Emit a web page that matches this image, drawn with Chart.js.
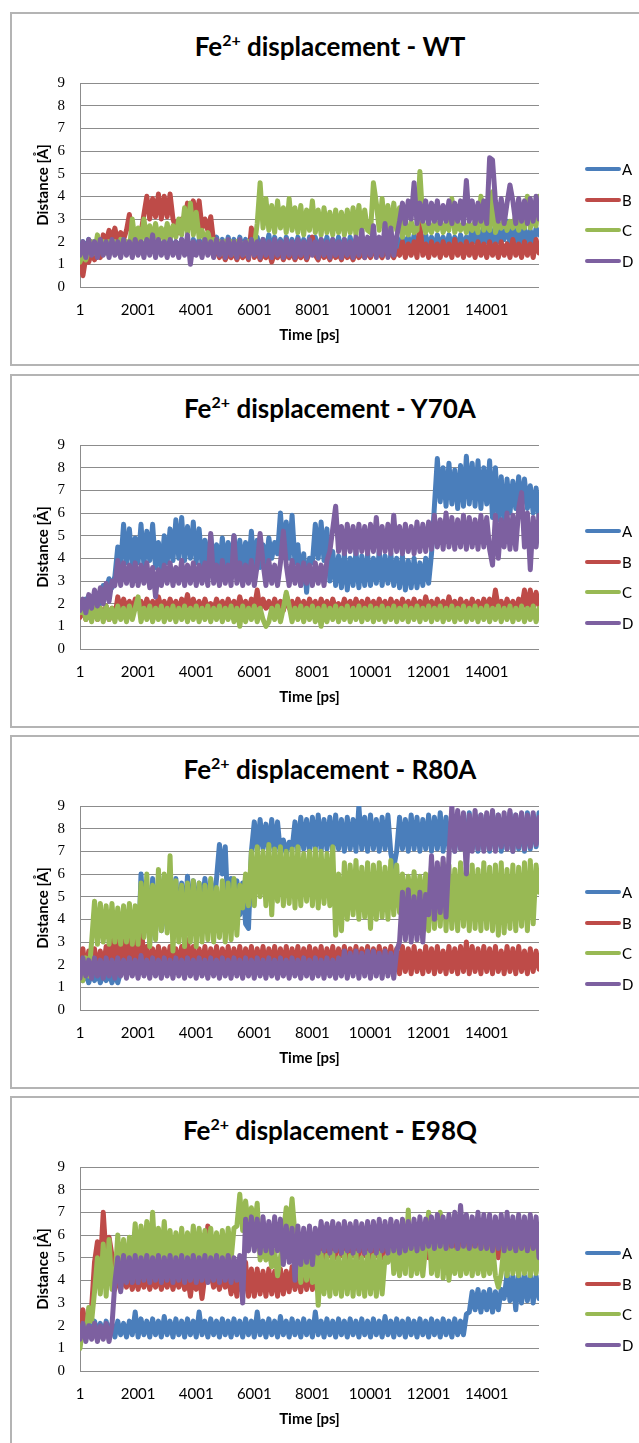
<!DOCTYPE html>
<html><head><meta charset="utf-8">
<script src="https://cdn.jsdelivr.net/npm/chart.js@4.4.1/dist/chart.umd.min.js"></script>
<style>
html,body{margin:0;padding:0;background:#fff}
body{width:639px;height:1443px;overflow:hidden;position:relative;font-family:Lato,"DejaVu Sans",sans-serif}
.panel{position:absolute;left:10px;width:680px;height:354px;border:2px solid #b4b4b4;box-sizing:border-box}
.title{position:absolute;left:0;width:660px;text-align:center;font-weight:bold;font-size:26px;line-height:30px;color:#000;white-space:nowrap}
.title .sup{font-size:16px;position:relative;top:-10px}
canvas{position:absolute;left:0}
.lgline{position:absolute;left:585px;width:36px;height:4px;border-radius:2px}
.lgtxt{position:absolute;left:622px;font-size:15px;line-height:16px;color:#000}
</style>
</head><body>
<script>
// ---- data ----
const TIMES = Array.from({length: 159}, (_, i) => 1 + 100 * i); // sample times [ps]
const X_TICKS = [1, 2001, 4001, 6001, 8001, 10001, 12001, 14001];
const SERIES_NAMES = ['A', 'B', 'C', 'D'];
const PANEL_NAMES = ['WT', 'Y70A', 'R80A', 'E98Q'];

const WT_A = [
1.5,2.0,1.6,2.1,1.5,2.0,1.6,2.1,1.5,1.9,1.6,2.1,1.5,2.0,1.6,2.1,1.5,2.0,1.6,2.1,
1.6,2.0,1.5,2.1,1.6,2.0,1.5,2.1,1.6,2.0,1.5,2.1,1.6,2.0,1.5,2.1,1.6,2.0,1.5,2.1,
1.6,2.1,1.5,2.2,1.6,2.1,1.5,2.2,1.6,2.1,1.5,2.2,1.6,2.1,1.5,2.2,1.6,2.1,1.5,2.3,
1.6,2.2,1.5,2.1,1.6,2.3,1.5,2.2,1.6,2.1,1.5,2.2,1.6,2.1,1.5,2.2,1.6,2.1,1.5,2.2,
1.6,2.2,1.5,2.1,1.6,2.2,1.5,2.1,1.6,2.2,1.5,2.1,1.6,2.2,1.5,2.1,1.6,2.2,1.5,2.1,
1.6,2.2,1.5,2.1,1.6,2.2,1.5,2.1,1.6,2.2,1.6,2.3,1.7,2.2,1.6,2.3,1.7,2.2,1.6,2.3,
1.7,2.2,1.6,2.3,1.7,2.2,1.6,2.3,1.7,2.2,1.6,2.3,1.7,2.2,1.9,2.6,2.0,2.5,1.9,2.7,
2.0,2.6,1.9,2.7,2.0,2.5,2.1,2.9,1.9,2.6,2.0,2.7,1.9,2.6,2.0,2.5,1.9,2.6,2.3];
const WT_B = [
1.2,0.5,1.3,1.1,1.5,1.2,1.6,1.3,2.3,2.0,2.5,2.1,2.6,2.0,2.4,2.1,2.5,3.2,2.2,2.4,
1.9,2.4,3.2,4.0,3.0,3.9,3.1,4.1,3.0,4.0,3.1,4.1,3.0,2.6,2.4,3.0,2.8,3.7,2.9,3.8,
3.0,3.8,2.6,3.0,2.5,3.1,2.0,1.6,1.3,1.6,1.2,1.5,1.3,1.6,1.2,1.5,1.3,1.6,1.2,2.6,
1.3,1.6,1.2,1.5,1.3,1.6,1.1,1.5,1.3,1.6,1.2,1.5,1.3,1.6,1.2,1.5,1.3,1.6,1.2,1.5,
2.2,1.4,1.2,1.6,1.3,1.5,1.2,1.6,1.3,1.5,1.2,1.6,1.3,1.5,1.2,1.6,1.3,1.5,1.3,1.6,
1.3,1.6,1.4,1.5,1.3,1.6,1.4,1.5,1.3,1.6,1.4,2.0,1.3,1.9,1.4,2.0,1.3,2.8,1.4,1.9,
1.3,2.0,1.4,1.9,1.3,2.0,1.4,1.9,1.3,2.1,1.4,1.9,1.3,2.0,1.4,1.9,1.3,2.0,1.4,1.9,
1.3,2.0,1.4,1.9,1.3,2.0,1.4,1.9,1.3,2.1,1.4,1.9,1.3,2.0,1.4,1.9,1.3,2.1,1.5];
const WT_C = [
1.1,1.4,1.2,1.6,2.0,1.5,2.3,1.6,2.0,1.5,2.0,1.6,2.0,1.5,2.1,1.6,2.0,1.6,3.0,2.0,
2.6,2.0,3.0,2.1,2.7,2.0,2.8,2.1,2.6,2.0,2.8,2.1,2.7,2.2,3.0,2.3,3.5,2.4,3.7,2.3,
3.3,2.2,2.5,2.0,2.4,1.9,2.1,1.6,2.0,1.5,2.0,1.6,2.0,1.5,2.0,1.6,1.9,1.5,2.0,1.6,
1.8,2.8,4.6,2.6,3.9,2.5,3.6,2.4,3.8,2.6,3.5,2.4,3.9,2.5,3.5,2.4,3.6,2.3,3.4,2.5,
3.8,2.4,3.4,2.3,3.5,2.4,3.3,2.3,3.4,2.4,3.3,2.3,3.4,2.4,3.5,2.3,3.6,2.4,3.4,2.5,
2.4,4.6,3.7,2.5,3.9,2.5,3.6,2.4,3.7,2.5,3.5,2.2,2.8,2.3,2.9,2.4,2.5,5.1,2.9,2.4,
2.8,2.4,2.9,2.5,3.0,2.4,2.8,2.5,3.9,2.4,2.8,2.5,2.9,2.4,2.8,2.5,2.9,2.4,4.0,2.5,
2.9,2.5,4.2,2.4,2.8,2.6,3.0,2.5,2.9,2.6,3.2,2.5,2.9,2.6,4.0,2.6,3.0,2.7,4.0];
const WT_D = [
1.4,2.0,1.3,2.1,1.4,2.0,1.3,2.1,1.4,2.0,1.3,2.1,1.4,2.0,1.3,2.1,1.4,2.0,1.3,2.1,
1.4,2.0,1.3,2.1,1.4,2.3,1.3,2.1,1.4,2.0,1.3,2.1,1.4,2.0,1.3,2.1,1.4,2.3,1.0,2.0,
1.4,2.0,1.3,2.1,1.4,2.0,1.3,2.1,1.4,2.0,1.3,2.1,1.4,2.0,1.3,2.1,1.4,2.0,1.3,2.1,
1.4,2.0,1.3,2.1,1.4,2.0,1.3,2.1,1.4,2.0,1.3,2.1,1.4,2.0,1.3,2.1,1.4,2.0,1.3,2.1,
1.4,2.0,1.3,2.1,1.4,2.0,1.3,2.1,1.4,2.0,1.3,2.1,1.4,2.0,1.3,2.2,1.4,2.5,1.3,2.2,
1.4,2.7,1.3,2.2,1.4,2.8,1.3,2.6,1.4,2.2,2.9,3.7,2.8,3.8,3.0,4.6,2.8,3.7,2.9,3.8,
2.8,3.7,2.9,3.8,2.8,3.6,2.9,3.8,2.8,3.7,2.9,3.8,2.8,4.7,2.9,3.8,2.8,3.7,2.9,3.8,
2.8,5.7,5.6,3.8,2.9,3.9,2.8,3.7,4.5,3.8,2.8,3.9,2.9,3.8,2.8,3.9,2.9,4.0,3.0];

const Y70A_A = [
1.8,1.5,2.2,1.4,2.3,1.6,2.4,2.0,2.8,2.6,3.1,2.7,3.2,4.5,3.7,5.5,3.8,5.3,3.7,4.9,
3.8,5.5,3.7,5.2,3.9,5.5,3.6,4.7,3.4,5.0,3.8,5.3,3.9,5.7,4.0,5.8,3.9,5.4,4.0,5.6,
3.8,5.3,3.7,4.8,3.6,5.0,3.7,4.6,3.6,4.9,3.7,4.7,3.5,5.0,3.7,4.8,3.6,4.7,3.6,5.2,
3.5,4.8,3.6,4.6,3.7,4.9,4.0,4.7,4.2,6.0,4.1,5.6,4.0,5.9,3.8,4.6,2.8,4.2,2.5,4.0,
3.8,5.5,4.0,5.6,3.9,5.3,3.0,4.3,2.8,4.1,2.7,4.2,2.6,4.0,2.8,4.3,2.7,4.1,2.8,4.2,
2.8,4.0,2.9,4.3,2.8,4.1,2.9,4.2,2.8,4.0,2.7,4.1,2.6,3.9,2.7,4.0,2.7,3.8,2.8,4.0,
2.9,4.2,6.3,8.4,6.5,8.0,6.3,8.2,6.4,7.9,6.2,8.1,6.3,8.5,6.4,8.2,6.3,8.3,6.2,8.0,
6.4,8.3,5.8,8.0,5.7,7.6,5.5,7.5,6.0,7.4,6.2,7.6,6.3,7.5,6.2,7.2,6.0,7.1,5.8];
const Y70A_B = [
1.4,1.9,1.3,1.8,1.4,1.9,1.3,1.8,1.4,1.9,1.3,1.8,1.4,2.3,1.7,2.2,1.8,2.1,1.7,2.2,
1.8,2.1,1.7,2.2,1.8,2.1,1.7,2.3,1.8,2.1,1.7,2.2,1.8,2.1,1.7,2.2,1.8,2.4,1.7,2.2,
1.8,2.1,1.7,2.2,1.8,2.0,1.7,2.2,1.8,2.1,1.7,2.2,1.8,2.1,1.7,2.3,1.8,2.1,1.7,2.2,
1.8,2.6,1.7,2.2,1.8,2.1,1.7,2.2,1.8,2.1,1.7,2.4,1.8,2.1,1.7,2.2,1.8,2.1,1.7,2.2,
1.8,2.1,1.7,2.2,1.8,2.1,1.7,2.2,1.8,2.0,1.7,2.2,1.8,2.1,1.7,2.2,1.8,2.1,1.7,2.2,
1.8,2.1,1.7,2.2,1.8,2.1,1.7,2.2,1.8,2.1,1.7,2.2,1.8,2.1,1.7,2.2,1.8,2.1,1.7,2.3,
1.8,2.1,1.7,2.2,1.8,2.1,1.7,2.3,1.8,2.1,1.7,2.2,1.8,2.1,1.7,2.2,1.8,2.1,1.7,2.2,
1.8,2.2,1.7,2.6,1.8,2.1,1.7,2.2,1.8,2.1,1.7,2.2,1.8,2.6,1.7,2.6,1.8,2.5,1.9];
const Y70A_C = [
1.6,1.9,1.3,1.8,1.2,1.9,1.3,1.8,1.2,1.9,1.3,1.8,1.2,1.9,1.3,1.8,1.2,1.9,1.3,1.8,
2.3,1.2,1.8,1.3,1.9,1.2,1.8,1.3,1.9,1.2,1.8,1.3,1.9,1.2,1.8,1.3,1.9,1.2,1.8,1.3,
1.9,1.2,1.8,1.3,1.9,1.2,1.8,1.3,1.9,1.2,1.8,1.3,1.9,1.2,1.8,1.0,1.9,1.2,1.8,1.3,
1.9,1.2,1.8,1.3,1.0,1.2,1.8,1.3,1.9,1.2,1.8,2.5,1.9,1.2,1.8,1.3,1.9,1.2,1.8,1.3,
1.9,1.2,1.8,1.0,1.9,1.2,1.8,1.3,1.9,1.2,1.8,1.3,1.9,1.2,1.8,1.3,1.9,1.2,1.8,1.3,
1.9,1.2,1.8,1.3,1.9,1.2,1.8,1.3,1.9,1.2,1.8,1.3,1.9,1.2,1.8,1.3,1.9,1.2,1.8,1.3,
1.9,1.2,1.8,1.3,1.9,1.2,1.8,1.3,1.9,1.2,1.8,1.3,1.9,1.2,1.8,1.3,1.9,1.2,1.8,1.3,
1.9,1.2,1.8,1.3,1.9,1.2,1.8,1.3,1.9,1.2,1.8,1.3,1.9,1.2,1.8,1.3,1.9,1.2,1.8];
const Y70A_D = [
1.7,2.2,1.6,2.4,1.8,2.6,1.9,2.7,2.0,2.9,2.1,3.0,2.8,3.9,2.8,3.8,2.9,3.7,2.8,3.8,
2.8,3.7,2.9,3.8,2.7,3.6,2.3,3.5,2.8,3.7,2.9,3.8,2.8,3.6,2.9,3.9,2.8,3.7,2.9,3.8,
2.8,3.7,2.9,3.8,2.8,5.1,2.9,3.7,2.8,3.9,2.9,3.7,2.8,5.0,2.9,3.8,2.8,3.7,2.9,3.9,
2.8,3.7,5.1,3.8,2.8,3.9,2.9,3.7,2.8,3.8,5.2,3.7,2.8,3.9,2.9,3.7,2.8,3.8,2.9,3.7,
2.8,3.8,2.9,3.7,2.8,3.9,4.3,5.3,6.3,4.3,5.4,4.2,5.5,4.3,5.4,4.2,5.5,4.3,5.4,4.2,
5.5,4.3,5.8,4.2,5.4,4.3,5.5,4.2,5.9,4.3,5.4,4.2,5.5,4.3,5.4,4.2,5.6,4.3,5.5,4.3,
5.6,4.4,5.9,4.5,5.7,4.4,6.0,4.5,5.8,4.4,5.7,4.5,5.9,4.4,5.8,4.5,5.7,4.4,5.9,4.5,
5.8,4.4,3.7,5.9,4.0,5.7,4.5,6.0,4.4,5.9,4.4,6.2,6.9,4.5,6.0,3.5,5.8,4.5,5.9];

const R80A_A = [
1.6,1.3,1.7,1.2,1.6,1.3,1.7,1.2,1.6,1.3,1.7,1.2,1.6,1.2,1.7,1.9,1.6,2.0,1.7,2.0,
2.0,6.0,4.0,5.5,3.0,5.8,3.7,5.6,3.5,5.9,3.6,5.7,3.8,5.8,3.5,5.6,3.7,5.9,3.8,5.7,
3.9,5.6,4.5,5.8,4.6,5.7,4.4,5.8,7.3,6.0,7.2,4.1,5.8,4.0,5.7,4.2,5.6,3.8,3.6,7.0,
8.3,7.0,8.4,7.1,8.2,7.0,8.4,7.0,8.3,6.9,7.5,6.9,7.4,7.1,8.3,7.0,8.5,7.1,8.4,7.0,
8.5,7.1,8.6,7.0,8.4,7.1,8.5,7.0,8.6,7.1,8.4,7.0,8.5,7.1,8.4,7.0,9.0,7.1,8.5,7.0,
8.6,7.1,8.4,7.0,8.5,7.1,8.6,6.9,6.3,7.0,8.5,7.1,8.4,7.0,8.6,7.1,8.5,7.0,8.4,7.1,
8.6,7.0,8.5,7.1,8.7,7.0,8.5,7.1,8.4,7.0,8.6,7.1,8.5,7.0,8.7,7.1,8.4,7.0,8.6,7.1,
8.5,7.0,8.7,7.1,8.6,7.0,8.5,7.1,8.7,7.0,8.6,7.1,8.5,7.0,8.7,7.1,8.6,7.2,8.7];
const R80A_B = [
1.7,2.7,1.6,2.6,1.8,2.7,1.7,2.6,1.8,2.8,2.1,3.3,2.0,3.2,2.1,3.4,2.0,3.1,2.1,3.3,
2.0,4.2,1.9,2.8,1.8,2.7,1.9,2.8,1.8,2.7,1.9,2.8,1.8,2.7,1.9,2.8,1.8,3.1,1.9,2.8,
1.8,2.7,1.9,2.8,1.8,2.7,1.9,2.8,1.8,2.7,1.9,2.8,1.8,2.7,1.9,2.8,1.8,2.7,1.9,2.8,
1.8,2.7,1.9,2.8,1.8,2.7,1.9,2.8,1.8,2.7,1.9,2.8,1.8,2.7,1.9,2.8,1.8,2.7,1.9,2.8,
1.8,2.7,1.9,2.8,1.8,2.7,1.9,2.8,1.8,2.7,1.9,2.8,1.8,2.7,1.9,2.8,1.8,2.7,1.9,2.8,
1.8,2.7,1.9,2.8,1.8,2.7,1.9,2.8,1.8,2.7,1.6,2.8,1.7,2.7,1.6,2.8,1.7,2.6,1.6,2.8,
1.7,2.7,1.6,2.8,1.7,2.6,1.6,2.8,1.7,2.7,1.6,2.8,1.7,3.0,1.6,2.8,1.7,2.7,1.6,2.8,
1.7,2.7,1.6,2.8,1.7,2.6,1.6,2.8,1.7,2.7,1.6,2.8,1.7,2.6,1.6,2.7,1.7,2.6,1.8];
const R80A_C = [
1.5,1.3,2.3,1.5,3.0,4.8,2.9,4.7,3.0,4.6,2.9,4.7,3.0,4.5,2.9,4.6,3.0,4.7,2.9,4.6,
2.9,5.6,3.2,6.0,2.8,5.5,3.1,6.2,3.5,6.0,3.4,6.8,2.6,5.7,3.0,5.5,2.8,5.6,3.0,5.7,
2.8,5.6,3.0,5.5,3.1,5.8,3.0,5.4,3.2,5.7,3.0,5.6,3.1,5.8,3.3,5.5,4.5,6.0,4.6,7.0,
4.6,7.2,5.0,7.0,4.6,7.3,4.2,7.1,4.8,7.2,4.6,7.0,4.7,7.1,4.5,7.2,4.6,6.9,4.8,7.0,
4.6,7.1,4.5,7.0,4.7,6.9,4.6,7.2,3.3,6.0,3.5,6.5,4.0,6.4,4.2,6.6,4.0,6.3,4.1,6.5,
3.6,6.4,4.0,6.5,4.1,6.3,4.0,6.6,4.2,6.4,4.3,6.0,4.4,5.9,4.3,6.1,4.4,5.9,4.3,6.0,
3.5,6.4,3.6,6.3,3.7,6.5,3.5,6.4,3.6,6.2,3.5,6.5,3.7,6.3,3.5,6.4,3.6,6.2,3.5,6.5,
3.6,6.3,3.5,6.4,3.3,6.5,3.4,6.2,3.6,6.4,3.5,6.3,3.7,6.5,3.5,6.6,3.8,6.4,5.2];
const R80A_D = [
1.4,2.3,1.5,2.2,1.4,2.3,1.5,2.2,1.4,2.3,1.5,2.2,1.4,2.3,1.5,2.2,1.4,2.3,1.5,2.2,
1.4,2.4,1.5,2.2,1.4,2.3,1.5,2.2,1.4,2.3,1.5,2.2,1.4,2.3,1.5,2.2,1.4,2.3,1.5,2.2,
1.4,2.3,1.5,2.2,1.4,2.3,1.5,2.2,1.4,2.3,1.5,2.2,1.4,2.3,1.5,2.2,1.4,2.3,1.5,2.2,
1.4,2.3,1.5,2.2,1.4,2.3,1.5,2.2,1.4,2.3,1.5,2.2,1.4,2.3,1.5,2.2,1.4,2.3,1.5,2.2,
1.4,2.3,1.5,2.2,1.4,2.3,1.5,2.2,1.4,2.3,1.5,2.6,1.4,2.5,1.5,2.6,1.4,2.5,1.5,2.6,
1.4,2.6,1.5,2.5,1.4,2.6,1.5,2.5,1.4,2.6,3.0,5.2,3.1,5.3,3.0,5.0,3.1,5.2,3.0,5.1,
4.2,6.8,4.0,6.5,4.3,6.7,4.1,6.8,9.0,7.0,8.8,7.1,8.7,6.0,8.6,7.0,8.8,7.1,8.6,7.0,
8.7,7.1,8.8,7.0,8.6,7.2,8.7,7.1,8.8,7.0,8.6,7.2,8.7,7.1,8.6,7.2,8.7,7.3,8.5];

const E98Q_A = [
1.5,2.2,1.6,2.1,1.5,2.2,1.6,2.1,1.5,2.2,1.6,2.1,1.5,2.2,1.6,2.1,1.5,2.2,1.6,2.6,
1.5,2.3,1.6,2.2,1.5,2.3,1.6,2.2,1.5,2.4,1.6,2.2,1.5,2.3,1.6,2.2,1.5,2.3,1.6,2.2,
1.5,2.6,1.6,2.2,1.5,2.3,1.6,2.2,1.5,2.3,1.6,2.2,1.5,2.3,1.6,2.2,1.5,2.3,1.6,2.2,
1.5,2.6,1.6,2.2,1.5,2.3,1.6,2.2,1.5,2.4,1.6,2.2,1.5,2.3,1.6,2.2,1.5,2.3,1.6,2.2,
1.5,2.6,1.6,2.2,1.5,2.3,1.6,2.2,1.5,2.3,1.6,2.2,1.5,2.3,1.6,2.2,1.5,2.3,1.6,2.2,
1.5,2.3,1.6,2.2,1.5,2.4,1.6,2.2,1.5,2.3,1.6,2.2,1.5,2.3,1.6,2.2,1.5,2.3,1.6,2.2,
1.5,2.3,1.6,2.2,1.5,2.3,1.6,2.2,1.5,2.3,1.6,2.2,1.6,2.5,2.6,3.5,2.7,3.6,2.6,3.5,
2.7,3.6,2.6,3.5,2.7,3.6,3.2,4.3,3.1,4.2,2.7,4.3,3.0,4.2,3.1,4.3,3.0,4.2,3.2];
const E98Q_B = [
1.8,2.7,1.9,2.6,2.8,4.8,5.7,4.6,7.0,5.0,5.9,5.1,3.6,4.2,3.6,4.3,3.7,4.2,3.6,4.3,
3.6,4.2,3.7,4.3,3.6,4.2,3.7,4.3,3.6,4.2,3.7,4.3,3.6,4.2,3.7,4.3,3.6,4.2,3.3,4.3,
3.6,4.3,3.2,4.2,6.4,4.3,3.7,4.2,3.6,4.3,3.7,4.2,3.4,4.3,3.3,4.6,3.4,4.8,3.3,4.5,
3.3,4.5,3.4,4.4,3.3,4.5,3.4,4.4,3.3,4.5,3.4,4.4,3.5,4.6,3.6,4.5,3.5,4.6,3.6,4.5,
3.6,4.6,5.2,6.3,5.0,6.4,5.1,6.3,5.0,6.4,5.1,6.3,5.0,6.4,5.1,6.3,5.0,6.4,5.1,6.3,
5.0,6.4,5.1,6.5,5.0,6.4,5.1,6.3,5.0,6.5,5.1,6.4,5.0,6.5,5.1,6.4,5.0,6.3,5.1,6.4,
5.0,6.3,5.1,6.4,5.0,6.3,5.1,6.4,5.0,6.3,5.1,6.4,5.0,6.3,5.1,6.4,5.0,6.3,5.1,6.4,
5.0,6.3,5.1,6.4,5.0,6.3,5.1,6.4,5.0,6.3,5.1,6.4,5.0,6.3,5.1,6.4,5.0,6.3,5.2];
const E98Q_C = [
1.0,2.0,1.5,2.8,2.2,3.5,5.0,3.4,5.6,3.3,5.8,3.6,4.0,6.0,4.2,5.8,4.1,5.9,4.8,6.5,
4.8,6.4,4.9,6.6,4.8,7.0,4.7,6.3,4.9,6.6,4.8,6.2,4.7,6.1,4.9,6.3,4.8,6.1,4.9,6.4,
4.8,6.3,4.9,6.2,4.7,6.3,4.8,6.1,4.9,6.2,4.8,6.3,4.9,6.3,6.4,7.8,6.2,7.5,6.4,7.2,
6.3,7.4,4.9,5.5,4.9,5.4,4.6,5.3,4.2,5.0,6.1,7.2,6.2,7.6,6.0,5.5,3.9,5.4,4.0,5.3,
3.9,5.5,2.9,5.2,3.4,5.1,3.3,5.2,3.4,5.0,3.3,5.2,3.4,5.1,3.3,5.2,3.4,5.0,3.3,5.2,
3.4,5.1,3.3,5.2,3.4,5.0,4.8,6.5,4.3,5.5,4.2,5.6,4.3,7.1,4.2,5.5,4.3,5.6,4.2,5.5,
7.0,4.3,5.5,4.2,7.0,4.1,5.6,4.0,5.4,4.3,5.6,4.2,5.5,4.3,5.6,4.2,5.5,4.3,5.6,4.2,
5.5,4.3,5.6,4.2,3.7,4.3,5.6,4.2,5.5,4.3,5.6,4.2,5.5,4.3,5.6,4.2,5.5,4.3,5.4];
const E98Q_D = [
1.4,2.1,1.3,2.0,1.4,2.1,1.3,2.0,1.4,2.1,1.3,2.0,3.9,5.0,3.5,5.1,3.9,5.0,3.9,5.1,
3.9,5.0,4.0,5.1,3.9,5.0,4.0,5.1,3.9,5.0,4.0,5.1,3.9,5.0,4.0,5.1,3.9,5.0,4.0,5.1,
3.9,5.0,4.0,5.1,3.9,5.0,4.0,5.1,3.9,5.0,4.0,5.1,3.9,5.0,4.0,5.1,3.0,6.7,5.3,6.8,
5.3,6.7,5.2,6.8,5.3,6.6,5.2,6.8,5.3,6.7,4.7,6.4,4.8,6.3,4.0,6.4,4.7,6.3,4.8,6.4,
4.7,6.3,5.2,6.6,5.3,6.5,5.2,6.6,5.3,6.5,5.2,6.6,5.3,6.5,5.2,6.6,5.3,6.5,5.2,6.6,
5.3,6.6,5.2,6.7,5.3,6.6,5.2,6.7,5.3,6.6,5.2,6.7,5.3,6.6,5.4,6.7,5.3,6.8,5.4,6.7,
5.5,6.8,5.4,6.9,5.5,6.8,5.4,6.9,5.5,7.0,5.4,7.3,5.5,6.9,5.4,6.8,5.5,7.0,5.4,6.9,
5.4,6.9,5.3,6.8,5.4,6.9,5.3,7.0,5.4,6.8,5.3,6.9,5.4,6.8,5.3,6.9,5.4,6.8,5.0];

// ---- styling / layout ----
const COLORS = ['#4a7ebb', '#be4b48', '#98b954', '#7d60a0'];
const PANEL_TOPS = [12, 374, 735, 1096];
const PANEL_SERIES = [
  [WT_A, WT_B, WT_C, WT_D],
  [Y70A_A, Y70A_B, Y70A_C, Y70A_D],
  [R80A_A, R80A_B, R80A_C, R80A_D],
  [E98Q_A, E98Q_B, E98Q_C, E98Q_D]
];
const LEGEND_Y = [157, 188, 218, 249];
const CW = 639, CH = 354;

PANEL_NAMES.forEach((name, p) => {
  const top = PANEL_TOPS[p];
  const box = document.createElement('div');
  box.className = 'panel';
  box.style.top = top + 'px';
  document.body.appendChild(box);

  const t = document.createElement('div');
  t.className = 'title';
  t.style.top = (top + 34 - 15) + 'px';
  t.innerHTML = 'Fe<span class="sup">2+</span> displacement - ' + name;
  document.body.appendChild(t);

  const cv = document.createElement('canvas');
  cv.width = CW; cv.height = CH;
  cv.style.width = CW + 'px'; cv.style.height = CH + 'px';
  cv.style.top = top + 'px';
  document.body.appendChild(cv);

  SERIES_NAMES.forEach((s, k) => {
    const ln = document.createElement('div');
    ln.className = 'lgline';
    ln.style.background = COLORS[k];
    ln.style.top = (top + LEGEND_Y[k] - 2) + 'px';
    document.body.appendChild(ln);
    const tx = document.createElement('div');
    tx.className = 'lgtxt';
    tx.textContent = s;
    tx.style.top = (top + LEGEND_Y[k] - 8) + 'px';
    document.body.appendChild(tx);
  });

  new Chart(cv, {
    type: 'line',
    data: {
      datasets: PANEL_SERIES[p].map((vals, k) => ({
        label: SERIES_NAMES[k],
        data: vals.map((v, i) => ({x: TIMES[i], y: v})),
        borderColor: COLORS[k],
        backgroundColor: COLORS[k],
        borderWidth: 5,
        pointRadius: 0,
        tension: 0,
        fill: false,
        order: 4 - k,
        borderJoinStyle: 'round',
        borderCapStyle: 'round'
      }))
    },
    options: {
      responsive: false,
      animation: false,
      devicePixelRatio: 1,
      layout: {padding: {top: 71, right: 100, left: 0, bottom: 0}},
      plugins: {legend: {display: false}, title: {display: false}, tooltip: {enabled: false}},
      scales: {
        x: {
          type: 'linear', min: 1, max: 15801,
          afterBuildTicks: s => { s.ticks = X_TICKS.map(v => ({value: v})); },
          afterFit: s => { s.height = 79; },
          grid: {display: false, drawTicks: false},
          border: {display: false},
          ticks: {autoSkip: false, maxRotation: 0, padding: 14, color: '#000',
                  font: {family: 'Lato', size: 15}, callback: v => String(v)},
          title: {display: true, text: 'Time [ps]', color: '#000',
                  font: {family: 'Lato', size: 15, weight: 'bold'}, padding: {top: 0, bottom: 22}}
        },
        y: {
          min: 0, max: 9,
          afterFit: s => { s.width = 80; },
          ticks: {stepSize: 1, padding: 15, color: '#000',
                  font: {family: "'Liberation Serif', 'DejaVu Serif', serif", size: 15}},
          grid: {color: '#8c8c8c', lineWidth: 1, drawTicks: false},
          border: {display: true, color: '#8c8c8c', width: 1},
          title: {display: true, text: 'Distance [Å]', color: '#000',
                  font: {family: 'Lato', size: 15, weight: 'bold'}, padding: {top: 34, bottom: 0}}
        }
      }
    }
  });
});
</script>
</body></html>
